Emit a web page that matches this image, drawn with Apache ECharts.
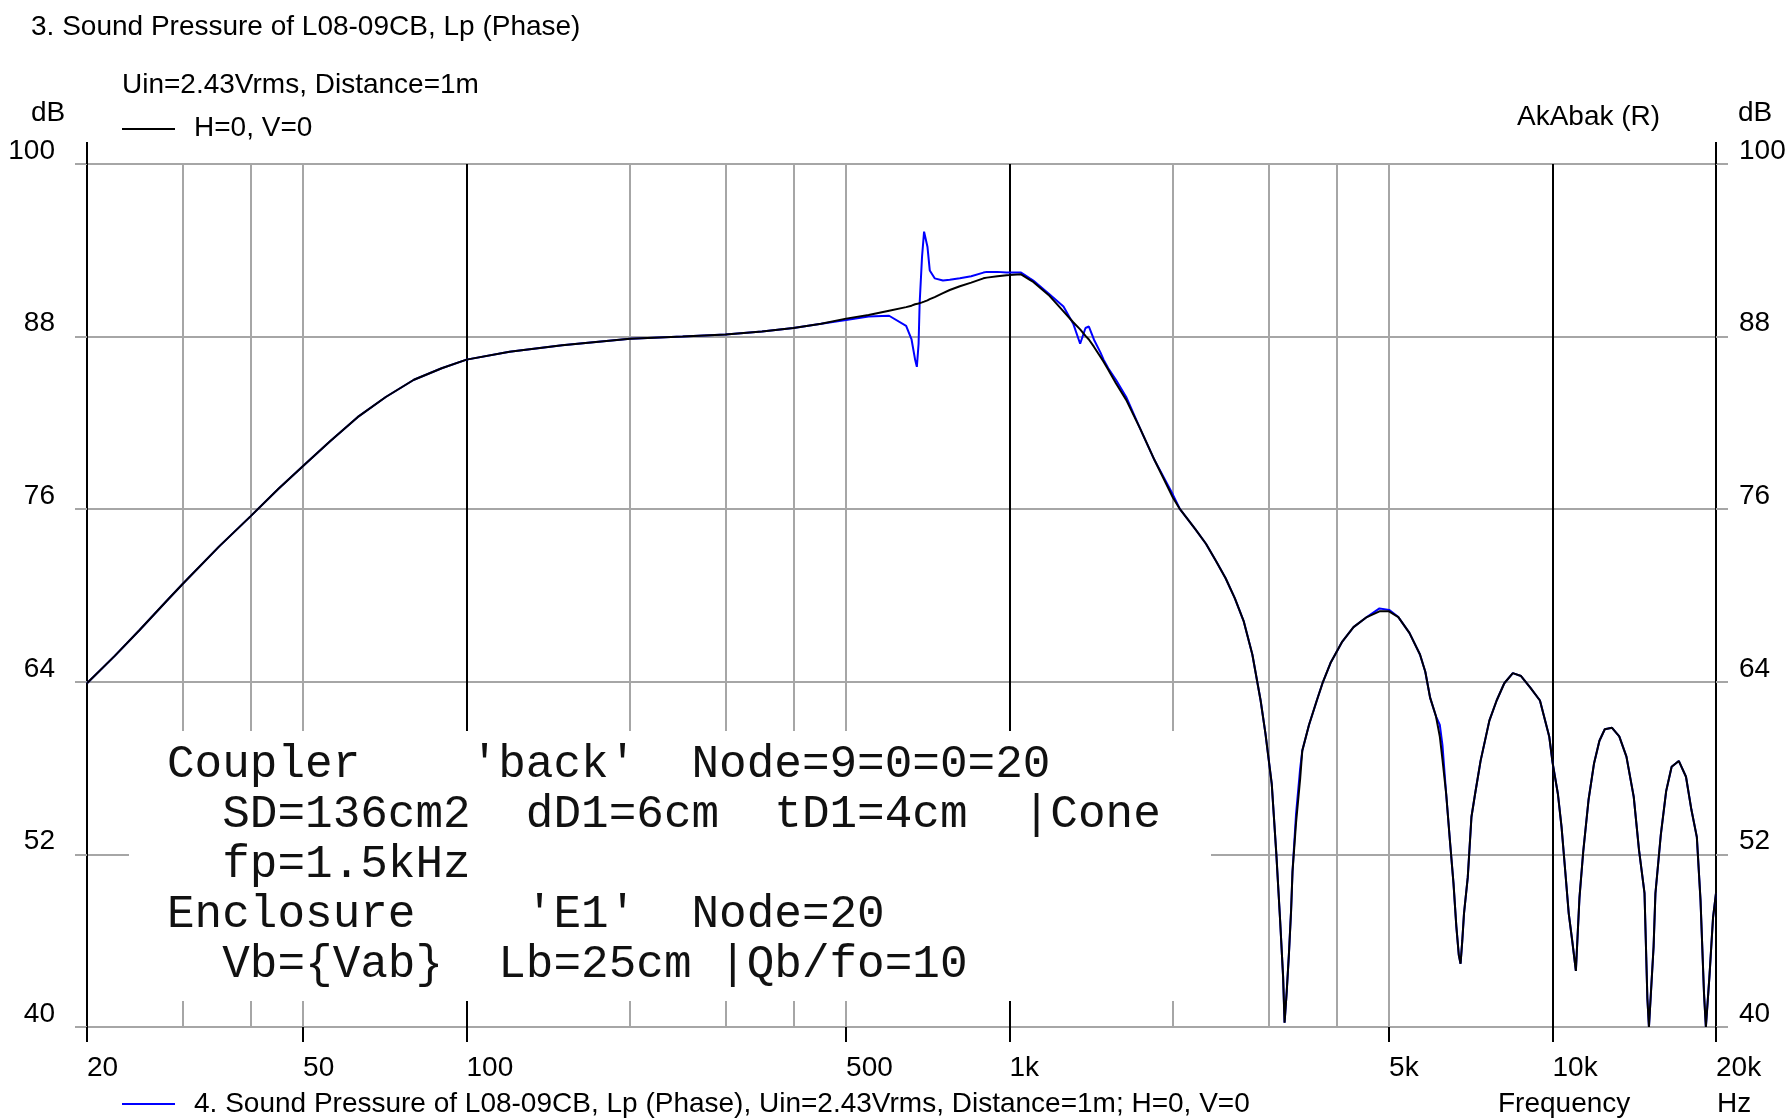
<!DOCTYPE html>
<html>
<head>
<meta charset="utf-8">
<title>Sound Pressure of L08-09CB</title>
<script src="https://cdn.jsdelivr.net/npm/echarts@6/dist/echarts.min.js"></script>
<style>
  html, body { margin: 0; padding: 0; background: #ffffff; }
  #chart { width: 1789px; height: 1120px; }
</style>
</head>
<body>
<div id="chart"></div>
<script>
// Frequency points (Hz)
const freqHz = [
  20, 22.5, 25, 28, 30, 35, 40, 45, 50, 56,
  63, 71, 80, 90, 100, 120, 150, 175, 200, 250,
  300, 350, 400, 450, 500, 550, 600, 645, 660, 670,
  675, 680, 683, 690, 696, 706, 713, 728, 754, 776,
  810, 850, 895, 908, 950, 988, 1000, 1050, 1090, 1106,
  1180, 1257, 1310, 1349, 1380, 1400, 1430, 1470, 1490, 1520,
  1570, 1640, 1740, 1850, 2000, 2060, 2200, 2300, 2400, 2500,
  2600, 2700, 2800, 2900, 2960, 3040, 3100, 3150, 3190, 3210,
  3240, 3270, 3300, 3320, 3370, 3430, 3460, 3560, 3680, 3770,
  3900, 4100, 4300, 4550, 4800, 5000, 5200, 5450, 5700, 5830,
  5950, 6100, 6200, 6270, 6370, 6470, 6570, 6650, 6720, 6770,
  6820, 6870, 6980, 7090, 7200, 7370, 7650, 7890, 8150, 8450,
  8750, 9100, 9480, 9860, 10000, 10230, 10390, 10550, 10710, 10870,
  11040, 11210, 11390, 11650, 11920, 12200, 12480, 12870, 13270, 13680,
  14110, 14430, 14770, 14950, 15050, 15350, 15470, 15830, 16190, 16570,
  17080, 17610, 18020, 18440, 18730, 19010, 19160, 19450, 19750, 20000
];

// 3. Sound Pressure, H=0, V=0 (dB)
const splBlack = [
  63.9, 65.8, 67.6, 69.6, 70.8, 73.4, 75.5, 77.4, 79.0, 80.7,
  82.4, 83.8, 85.0, 85.8, 86.4, 86.95, 87.4, 87.65, 87.85, 88.0,
  88.15, 88.35, 88.6, 88.9, 89.25, 89.5, 89.8, 90.05, 90.15, 90.25,
  90.27, 90.3, 90.32, 90.38, 90.43, 90.52, 90.6, 90.75, 91.02, 91.24,
  91.5, 91.75, 92.05, 92.1, 92.2, 92.27, 92.28, 92.33, 91.95, 91.8,
  90.9, 89.75, 89.0, 88.5, 88.05, 87.8, 87.3, 86.6, 86.25, 85.7,
  84.75, 83.6, 81.6, 79.4, 76.8, 76.0, 74.6, 73.6, 72.4, 71.2,
  69.8, 68.2, 65.9, 62.7, 60.4, 56.9, 52.0, 47.4, 43.5, 40.3,
  42.5, 45.1, 48.1, 50.8, 54.2, 57.3, 59.2, 61.0, 62.7, 63.9,
  65.3, 66.8, 67.8, 68.5, 68.9, 68.9, 68.5, 67.4, 65.9, 64.7,
  62.9, 61.6, 60.2, 58.6, 56.2, 53.0, 50.0, 47.0, 45.0, 44.4,
  46.0, 47.9, 50.4, 54.6, 56.2, 58.5, 61.3, 62.7, 63.9, 64.6,
  64.4, 63.6, 62.7, 60.2, 58.4, 56.2, 53.9, 50.9, 47.9, 46.0,
  43.9, 49.0, 52.2, 55.8, 58.3, 59.9, 60.7, 60.8, 60.2, 58.8,
  56.0, 52.3, 49.3, 42.0, 40.0, 45.6, 49.3, 53.4, 56.4, 58.1,
  58.5, 57.4, 55.1, 53.2, 48.8, 42.3, 40.0, 43.5, 47.6, 49.3
];

// 4. Sound Pressure (dB)
const splBlue = [
  63.9, 65.8, 67.6, 69.6, 70.8, 73.4, 75.5, 77.4, 79.0, 80.7,
  82.4, 83.8, 85.0, 85.8, 86.4, 86.95, 87.4, 87.65, 87.85, 88.0,
  88.15, 88.35, 88.6, 88.9, 89.15, 89.4, 89.45, 88.75, 87.8, 86.4,
  85.9, 87.5, 90.3, 93.55, 95.3, 94.25, 92.6, 92.05, 91.9, 91.95,
  92.05, 92.2, 92.45, 92.5, 92.5, 92.45, 92.45, 92.45, 92.05, 91.9,
  91.0, 90.1, 88.9, 87.5, 88.6, 88.7, 87.8, 86.9, 86.4, 85.8,
  85.0, 83.8, 81.6, 79.4, 77.0, 76.0, 74.6, 73.6, 72.4, 71.2,
  69.8, 68.2, 65.9, 62.7, 60.4, 56.9, 52.0, 47.4, 43.5, 40.3,
  42.5, 45.1, 48.1, 50.8, 54.8, 58.0, 59.2, 61.0, 62.7, 63.9,
  65.3, 66.8, 67.8, 68.5, 69.1, 69.0, 68.5, 67.4, 65.9, 64.7,
  62.9, 61.6, 61.0, 59.6, 56.2, 53.0, 50.0, 47.0, 45.0, 44.4,
  46.0, 47.9, 50.4, 54.6, 56.2, 58.5, 61.3, 62.7, 63.9, 64.6,
  64.4, 63.6, 62.7, 60.2, 58.4, 56.2, 53.9, 50.9, 47.9, 46.0,
  43.9, 49.0, 52.2, 55.8, 58.3, 59.9, 60.7, 60.8, 60.2, 58.8,
  56.0, 52.3, 49.3, 42.0, 40.0, 45.6, 49.3, 53.4, 56.4, 58.1,
  58.5, 57.4, 55.1, 53.2, 48.8, 42.3, 40.0, 43.5, 47.6, 49.3
];

// Axis ticks and grid
const xTickValues = [20, 50, 100, 500, 1000, 5000, 10000, 20000];
const xTickText = ['20', '50', '100', '500', '1k', '5k', '10k', '20k'];
const xMinorGrid = [30, 40, 50, 200, 300, 400, 500, 2000, 3000, 4000, 5000];
const xDecadeGrid = [100, 1000, 10000];
const xAxisEnds = [20, 20000];
const yTicks = [40, 52, 64, 76, 88, 100];

// Text block
const boxLines = [
  "Coupler    'back'  Node=9=0=0=20",
  "  SD=136cm2  dD1=6cm  tD1=4cm  |Cone",
  "  fp=1.5kHz",
  "Enclosure    'E1'  Node=20",
  "  Vb={Vab}  Lb=25cm |Qb/fo=10"
];

const titleText = '3. Sound Pressure of L08-09CB, Lp (Phase)';
const subText = 'Uin=2.43Vrms, Distance=1m';
const legendBlack = 'H=0, V=0';
const legendBlue = '4. Sound Pressure of L08-09CB, Lp (Phase), Uin=2.43Vrms, Distance=1m; H=0, V=0';

const FONT = "'Liberation Sans', Arial, sans-serif";
const MONO = "'Liberation Mono', 'Courier New', monospace";
const GRID_GRAY = '#a6a6a6';
const FS = 28;

const pair = vals => freqHz.map((f, i) => [f, vals[i]]);

function logX(extra) {
  return Object.assign({
    type: 'log', logBase: 10, min: 20, max: 20000, gridIndex: 0,
    position: 'bottom',
    axisLine: { show: false },
    axisTick: { show: false },
    axisLabel: { show: false },
    splitLine: { show: false }
  }, extra);
}

function txt(x, y, text, opts) {
  return Object.assign({
    type: 'text', z: 5,
    style: Object.assign({
      x: x, y: y, text: text,
      fill: '#000', font: FS + 'px ' + FONT,
      align: 'left', verticalAlign: 'middle',
      textAlign: 'left', textVerticalAlign: 'middle'
    }, opts || {})
  });
}

const graphics = [
  // white panel behind the parameter listing
  { type: 'rect', z: 1, shape: { x: 129, y: 731, width: 1082, height: 270 }, style: { fill: '#ffffff' } },
  txt(31, 27, titleText),
  txt(122, 85, subText),
  { type: 'line', z: 5, shape: { x1: 122, y1: 129, x2: 175, y2: 129 }, style: { stroke: '#000', lineWidth: 2 } },
  txt(194, 128, legendBlack),
  txt(31, 113, 'dB'),
  txt(1738, 113, 'dB'),
  txt(1517, 117, 'AkAbak (R)'),
  { type: 'line', z: 5, shape: { x1: 122, y1: 1104, x2: 175, y2: 1104 }, style: { stroke: '#0000ff', lineWidth: 2 } },
  txt(194, 1104, legendBlue),
  txt(1498, 1104, 'Frequency'),
  txt(1717, 1104, 'Hz')
];
boxLines.forEach((line, i) => {
  graphics.push(txt(167, 765 + i * 50, line, { font: '46px ' + MONO, fill: '#111' }));
});

// y labels sit just above their grid line
const yAxisCommon = {
  type: 'value', min: 40, max: 100, gridIndex: 0,
  axisLine: { show: true, lineStyle: { color: '#000', width: 2 } },
  axisTick: { show: true, customValues: yTicks, length: 12, inside: false, lineStyle: { color: GRID_GRAY, width: 2 } },
  axisLabel: {
    show: true, customValues: yTicks, fontSize: FS, fontFamily: FONT, color: '#000',
    verticalAlign: 'bottom', lineHeight: 26
  }
};

const option = {
  animation: false,
  backgroundColor: '#ffffff',
  grid: { left: 87, right: 73, top: 164, bottom: 93, containLabel: false, outerBoundsMode: 'none' },
  xAxis: [
    logX({ axisTick: { show: false, customValues: xMinorGrid },
           splitLine: { show: true, lineStyle: { color: GRID_GRAY, width: 2 } } }),
    logX({ axisTick: { show: false, customValues: xDecadeGrid },
           splitLine: { show: true, lineStyle: { color: '#000', width: 2 } } }),
    logX({ axisTick: { show: true, customValues: xTickValues, length: 15, inside: false, lineStyle: { color: '#000', width: 2 } },
           axisLabel: {
             show: true, customValues: xTickValues, interval: 0, align: 'left', margin: 27,
             fontSize: FS, fontFamily: FONT, color: '#000',
             formatter: v => {
               const i = xTickValues.findIndex(t => Math.abs(t - v) / t < 1e-3);
               return i >= 0 ? xTickText[i] : '';
             }
           } }),
    logX({ position: 'top',
           axisTick: { show: true, customValues: xAxisEnds, length: 22, inside: false, lineStyle: { color: '#000', width: 2 } } })
  ],
  yAxis: [
    Object.assign({}, yAxisCommon, {
      position: 'left',
      axisLabel: Object.assign({}, yAxisCommon.axisLabel, { margin: 32 }),
      splitLine: { show: true, lineStyle: { color: GRID_GRAY, width: 2 } }
    }),
    Object.assign({}, yAxisCommon, {
      position: 'right',
      axisLabel: Object.assign({}, yAxisCommon.axisLabel, { margin: 23 }),
      splitLine: { show: false }
    })
  ],
  series: [
    {
      type: 'line', name: 'Lp 4', xAxisIndex: 0, yAxisIndex: 0,
      data: pair(splBlue), showSymbol: false, symbol: 'none', clip: true, z: 2,
      lineStyle: { color: '#0000ff', width: 2 }, itemStyle: { color: '#0000ff' }
    },
    {
      type: 'line', name: 'Lp 3', xAxisIndex: 0, yAxisIndex: 0,
      data: pair(splBlack), showSymbol: false, symbol: 'none', clip: true, z: 3,
      lineStyle: { color: '#000000', width: 2 }, itemStyle: { color: '#000000' }
    }
  ],
  graphic: { elements: graphics }
};

const chart = echarts.init(document.getElementById('chart'), null, { renderer: 'canvas' });
chart.setOption(option);
</script>
</body>
</html>
